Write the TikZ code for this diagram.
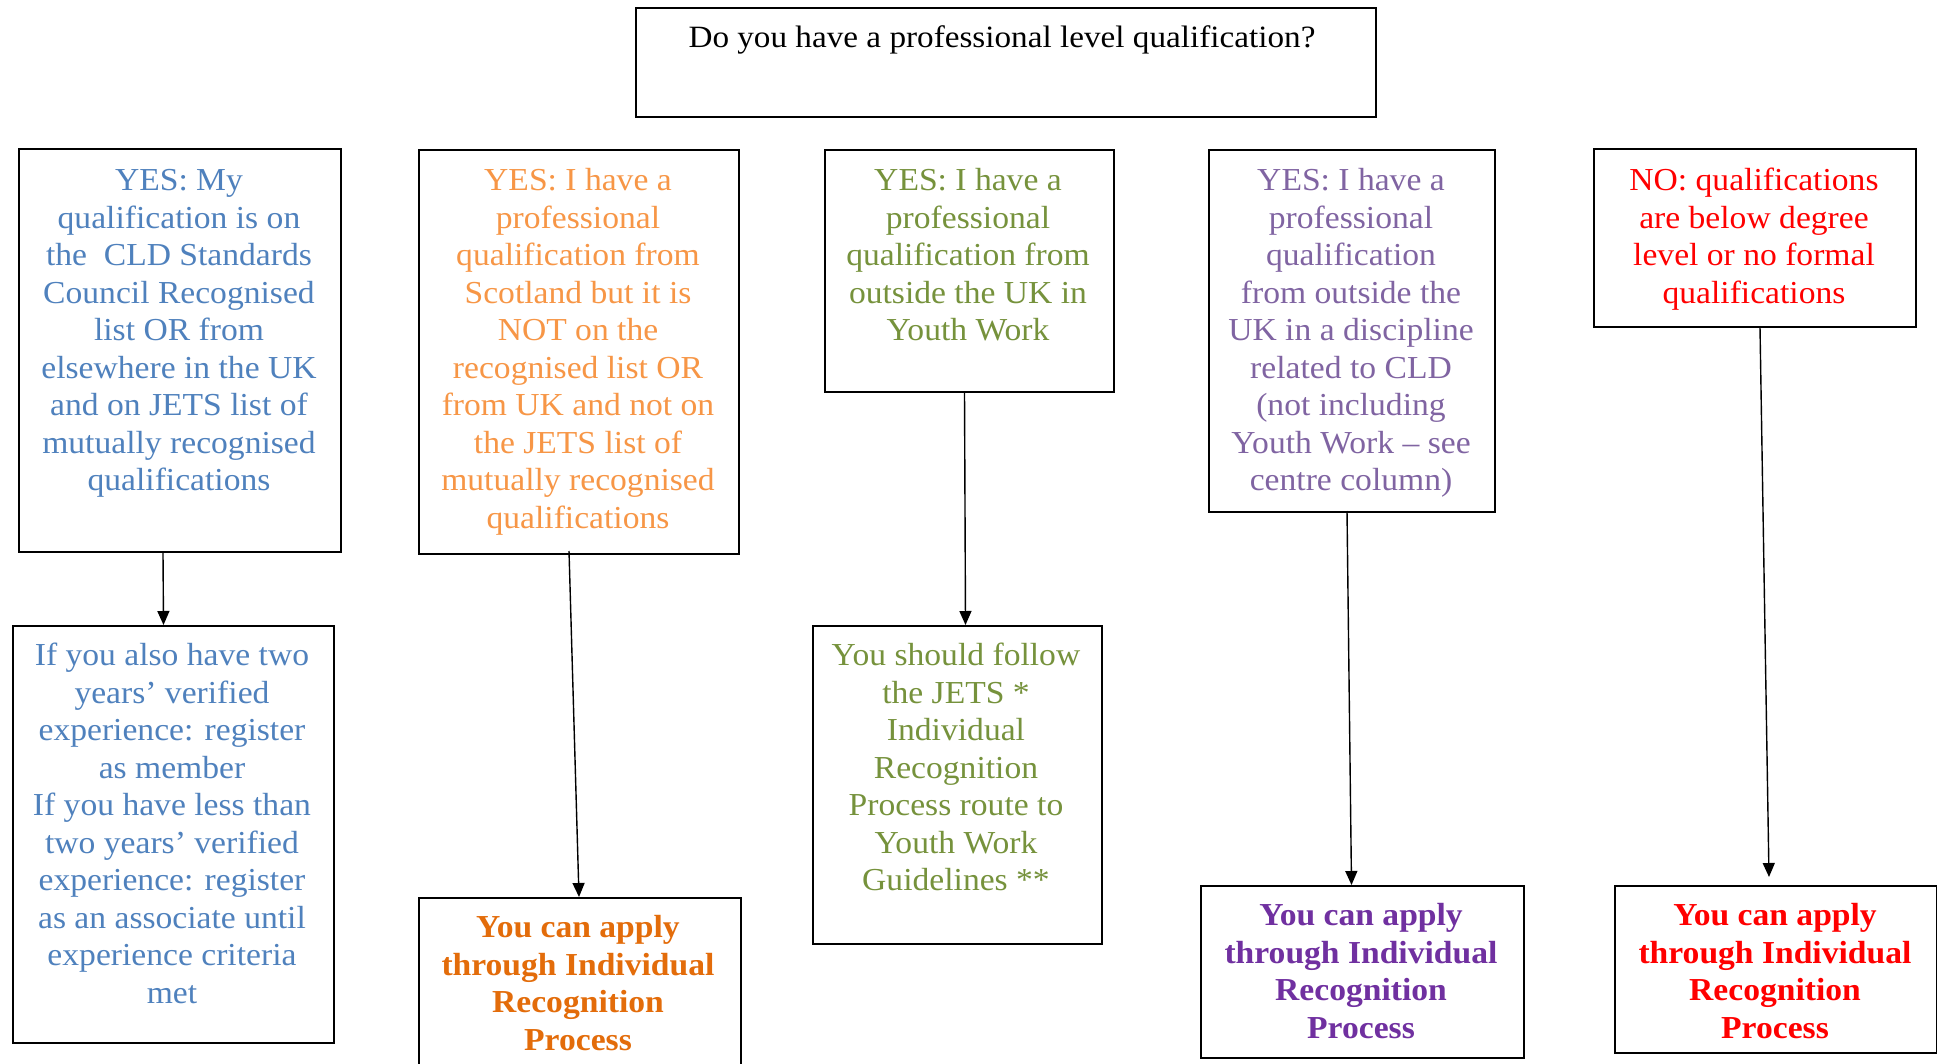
\documentclass[tikz,border=0pt]{standalone}
\usepackage{fontspec}
\setmainfont{Liberation Serif}[FakeStretch=1.05]
\usetikzlibrary{calc,arrows.meta}
\definecolor{cblue}{HTML}{4F81BD}
\definecolor{corange}{HTML}{F79646}
\definecolor{cgreen}{HTML}{76923C}
\definecolor{cpurple}{HTML}{8064A2}
\definecolor{cred}{HTML}{FF0000}
\definecolor{borange}{HTML}{E36C0A}
\definecolor{bpurple}{HTML}{7030A0}
\begin{document}
\begin{tikzpicture}[x=0.5pt,y=-0.5pt,
  box/.style={draw=black,line width=1pt,rectangle,inner sep=0pt,anchor=north west},
  txt/.style={anchor=north,inner sep=0pt,align=center,font=\fontsize{16}{18.75}\selectfont},
  btxt/.style={anchor=north,inner sep=0pt,align=center,font=\fontsize{16}{18.75}\selectfont\bfseries},
  arr/.style={line width=0.7pt,-{Triangle[width=6pt,length=7pt]}}]
\useasboundingbox (0,0) rectangle (1937,1064);
\fill[white] (0,0) rectangle (1937,1064);

% top question
\node[box,minimum width=370pt,minimum height=54.5pt] (q) at (635,7) {};
\node[anchor=north,inner sep=0pt,font=\fontsize{15.5}{18}\selectfont] (qt) at (1002,22)
  {\strut\scalebox{1.02}[1]{Do you have a professional level qualification?}};

% row 1 boxes
\node[box,minimum width=161pt,minimum height=201.5pt] (b1) at (18,148) {};
\node[box,minimum width=160pt,minimum height=202pt] (b2) at (418,149) {};
\node[box,minimum width=144.5pt,minimum height=121pt] (b3) at (824,149) {};
\node[box,minimum width=143pt,minimum height=181pt] (b4) at (1208,149) {};
\node[box,minimum width=161pt,minimum height=89pt] (b5) at (1593,148) {};

\node[txt,text=cblue] (t1) at (179,164) {\strut YES: My\\qualification is on\\the\ \ CLD Standards\\Council Recognised\\list OR from\\elsewhere in the UK\\and on JETS list of\\mutually recognised\\qualifications};
\node[txt,text=corange] (t2) at (578,164) {\strut YES: I have a\\professional\\qualification from\\Scotland but it is\\NOT on the\\recognised list OR\\from UK and not on\\the JETS list of\\mutually recognised\\qualifications};
\node[txt,text=cgreen] (t3) at (968,164) {\strut YES: I have a\\professional\\qualification from\\outside the UK in\\Youth Work};
\node[txt,text=cpurple] (t4) at (1351,164) {\strut YES: I have a\\professional\\qualification\\from outside the\\UK in a discipline\\related to CLD\\(not including\\Youth Work – see\\centre column)};
\node[txt,text=cred] (t5) at (1754,164) {\strut NO: qualifications\\are below degree\\level or no formal\\qualifications};

% row 2 boxes
\node[box,minimum width=160.5pt,minimum height=208.5pt] (c1) at (12,625) {};
\node[box,minimum width=161pt,minimum height=89pt] (c2) at (418,897) {};
\node[box,minimum width=144.5pt,minimum height=159pt] (c3) at (812,625) {};
\node[box,minimum width=161.5pt,minimum height=86pt] (c4) at (1200,885) {};
\node[box,minimum width=161pt,minimum height=83.5pt] (c5) at (1614,885) {};

\node[txt,text=cblue] (u1) at (172,639) {\strut If you also have two\\years’ verified\\experience: register\\as member\\If you have less than\\two years’ verified\\experience: register\\as an associate until\\experience criteria\\met};
\node[btxt,text=borange] (u2) at (578,911) {\strut You can apply\\through Individual\\Recognition\\Process};
\node[txt,text=cgreen] (u3) at (956,639) {\strut You should follow\\the JETS *\\Individual\\Recognition\\Process route to\\Youth Work\\Guidelines **};
\node[btxt,text=bpurple] (u4) at (1361,899) {\strut You can apply\\through Individual\\Recognition\\Process};
\node[btxt,text=cred] (u5) at (1775,899) {\strut You can apply\\through Individual\\Recognition\\Process};

% connectors
\draw[arr] ($(b1.south)+(-17,0)$) -- ($(c1.north)+(-10,0)$);
\draw[arr] ($(b2.south)+(-10,-4)$) -- ($(c2.north)+(-1,0)$);
\draw[arr] ($(b3.south)+(-5,0)$) -- ($(c3.north)+(8,0)$);
\draw[arr] ($(b4.south)+(-5,-2)$) -- ($(c4.north)+(-11,0)$);
\draw[arr] ($(b5.south)+(5,0)$) -- ($(c5.north)+(-7,-8)$);
\end{tikzpicture}
\end{document}
